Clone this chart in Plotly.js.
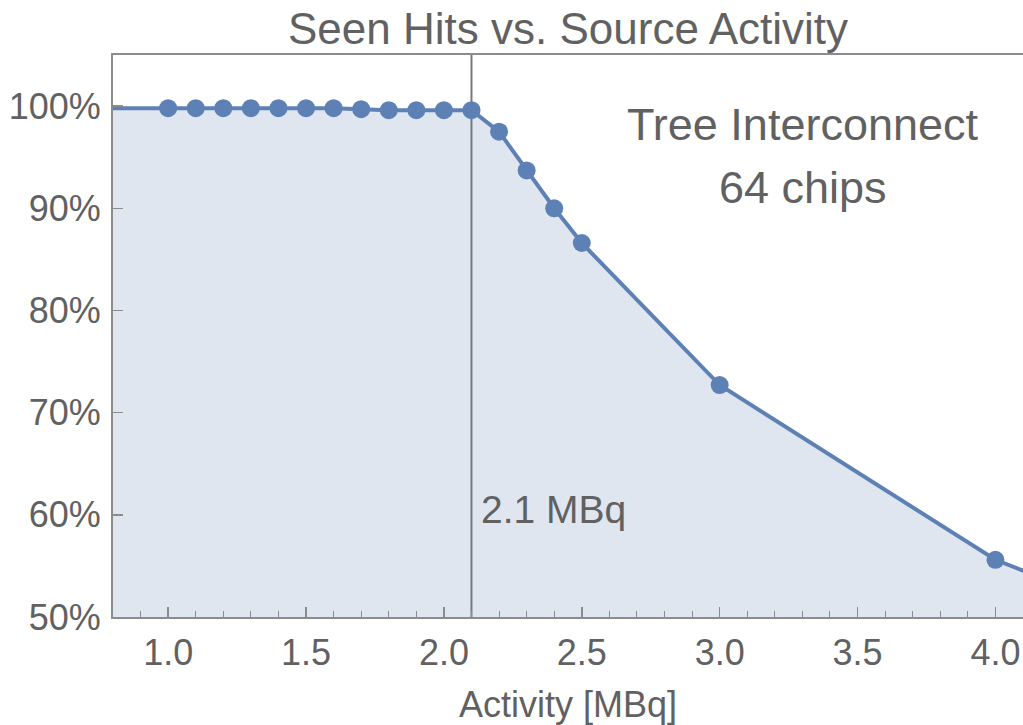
<!DOCTYPE html>
<html>
<head>
<meta charset="utf-8">
<script src="https://cdn.plot.ly/plotly-3.0.1.min.js"></script>
<style>html,body{margin:0;padding:0;background:#fff;}#chart{width:1023px;height:725px;}</style>
</head>
<body>
<div id="chart"></div>
<script>
// Source activity [MBq] (points beyond the visible range carry the line to the edges)
const activity = [0.5, 1.0, 1.1, 1.2, 1.3, 1.4, 1.5, 1.6, 1.7, 1.8, 1.9, 2.0, 2.1, 2.2, 2.3, 2.4, 2.5, 3.0, 4.0, 5.0];
// Seen hits [%]
const seenHits = [99.8, 99.8, 99.8, 99.8, 99.8, 99.8, 99.8, 99.8, 99.7, 99.6, 99.6, 99.6, 99.6, 97.5, 93.7, 90.0, 86.6, 72.7, 55.6, 45.0];
const thresholdActivity = 2.1;
const thresholdLabel = "2.1 MBq";
const chartTitle = "Seen Hits vs. Source Activity";
const xTitle = "Activity [MBq]";
const noteLines = ["Tree Interconnect", "64 chips"];

const blue = "#5E81B5";
const textGray = "#616161";
const axisGray = "#8c8c8c";
const font = "Liberation Sans, Arial, sans-serif";

const trace = {
  x: activity, y: seenHits, type: "scatter", mode: "lines+markers",
  line: {color: blue, width: 4},
  marker: {color: blue, size: 18},
  fill: "tozeroy", fillcolor: "rgba(94,129,181,0.2)",
  cliponaxis: true, hoverinfo: "skip"
};

const layout = {
  width: 1023, height: 725,
  margin: {l: 113, r: 0, t: 55, b: 108},
  paper_bgcolor: "#fff", plot_bgcolor: "#fff",
  showlegend: false,
  font: {family: font, color: textGray},
  title: {text: chartTitle, font: {size: 44, color: textGray, family: font},
          x: 0.5, xref: "paper", xanchor: "center", y: 1 - 29/725, yref: "container", yanchor: "middle"},
  xaxis: {
    range: [0.8, 4.1], dtick: 0.5, tick0: 0, tickformat: ".1f",
    ticks: "inside", ticklen: 10, tickwidth: 1.5, tickcolor: axisGray,
    minor: {dtick: 0.1, ticks: "inside", ticklen: 6, tickwidth: 1, tickcolor: axisGray},
    showline: true, linecolor: axisGray, linewidth: 2, mirror: true,
    showgrid: false, zeroline: false,
    tickfont: {size: 36, color: textGray, family: font},
    ticklabelstandoff: 3,
    title: {text: xTitle, font: {size: 36, color: textGray, family: font}, standoff: 22}
  },
  yaxis: {
    range: [50, 105], dtick: 10, tick0: 50, ticksuffix: "%",
    ticks: "inside", ticklen: 10, tickwidth: 1.5, tickcolor: axisGray,
    showline: true, linecolor: axisGray, linewidth: 2, mirror: true,
    showgrid: false, zeroline: false,
    tickfont: {size: 36, color: textGray, family: font},
    ticklabelstandoff: 3
  },
  shapes: [{
    type: "line", xref: "x", yref: "paper", x0: thresholdActivity, x1: thresholdActivity, y0: 0, y1: 1,
    line: {color: "#777777", width: 2}, layer: "below"
  }],
  annotations: [
    {text: thresholdLabel, xref: "x", yref: "y", x: thresholdActivity, y: 60.5, xanchor: "left", yanchor: "middle",
     xshift: 8, showarrow: false, font: {size: 39, color: textGray, family: font}},
    {text: noteLines[0], xref: "paper", yref: "paper", x: (803-113)/910, y: (617-124)/562, xanchor: "center", yanchor: "middle",
     showarrow: false, font: {size: 45, color: textGray, family: font}},
    {text: noteLines[1], xref: "paper", yref: "paper", x: (803-113)/910, y: (617-187)/562, xanchor: "center", yanchor: "middle",
     showarrow: false, font: {size: 45, color: textGray, family: font}}
  ]
};

Plotly.newPlot("chart", [trace], layout, {displayModeBar: false, staticPlot: true});
</script>
</body>
</html>
